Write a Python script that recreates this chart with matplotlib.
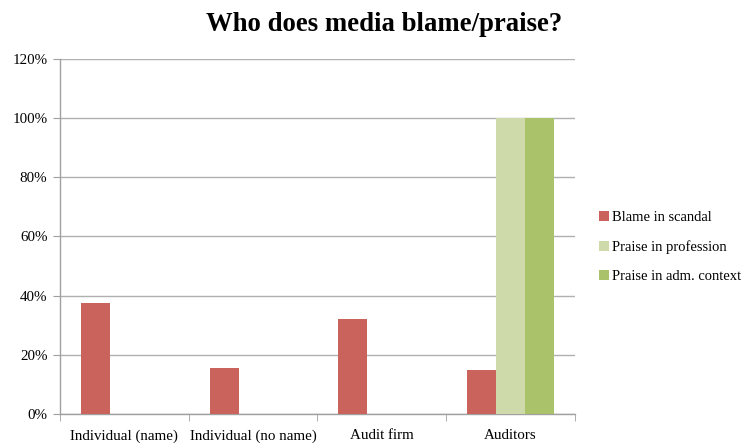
import matplotlib
matplotlib.use("Agg")
import matplotlib.pyplot as plt
import numpy as np
from matplotlib.ticker import PercentFormatter, FixedLocator

categories = ["Individual (name)", "Individual (no name)", "Audit firm", "Auditors"]
series_names = ["Blame in scandal", "Praise in profession", "Praise in adm. context"]
blame = [37.5, 15.5, 32.0, 15.0]
praise_prof = [0, 0, 0, 100]
praise_adm = [0, 0, 0, 100]
colors = ["#C9635B", "#CFDAAB", "#AAC36B"]

plt.rcParams['font.family'] = ['Liberation Serif', 'DejaVu Serif']

fig = plt.figure(figsize=(7.46, 4.43), dpi=100)
ax = fig.add_axes([0.0804, 0.0655, 0.6904, 0.8013])

x = np.arange(len(categories))
w = 0.225
for i, (vals, name, c) in enumerate(zip([blame, praise_prof, praise_adm], series_names, colors)):
    v = np.array(vals, dtype=float)
    xs = x + (i - 1) * w
    mask = v > 0
    ax.bar(xs[mask], v[mask], width=w, color=c, label=name, zorder=3, edgecolor='none')

ax.set_xlim(-0.5, len(categories) - 0.5)
ax.set_ylim(0, 120)
ax.set_yticks(np.arange(0, 121, 20))
ax.yaxis.set_major_formatter(PercentFormatter(decimals=0))
ax.set_xticks(x)
ax.set_xticklabels(categories, fontsize=10.8)
ax.xaxis.set_minor_locator(FixedLocator(np.arange(-0.5, len(categories), 1)))
ax.tick_params(axis='x', which='major', length=0, pad=11)
ax.tick_params(axis='x', which='minor', length=5, color='#A0A0A0')
ax.tick_params(axis='y', length=5, color='#A0A0A0', labelsize=10.8, pad=4)
ax.grid(axis='y', color='#B0B0B0', linewidth=1, zorder=0)
for s in ['top', 'right']:
    ax.spines[s].set_visible(False)
for s in ['left', 'bottom']:
    ax.spines[s].set_color('#A0A0A0')
    ax.spines[s].set_linewidth(1)

fig.text(0.515, 0.944, "Who does media blame/praise?", ha='center', va='center',
         fontsize=19.3, fontweight='bold')

leg = fig.legend(loc='center left', bbox_to_anchor=(0.803, 0.442), frameon=False,
                 fontsize=10.5, handlelength=0.65, handleheight=0.65, handletextpad=0.25,
                 labelspacing=1.1, borderaxespad=0, borderpad=0)

fig.savefig("out.png", dpi=100)
